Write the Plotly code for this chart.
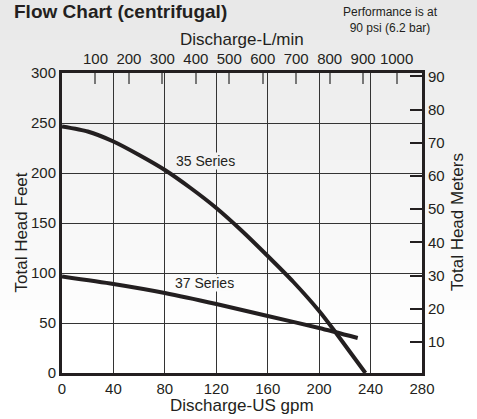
import plotly.graph_objects as go

# Pump performance curves: discharge (US gpm) vs total head (feet)
gpm_35 = [0, 20, 40, 60, 80, 100, 120, 140, 160, 180, 200, 212, 224, 236]
head_35 = [246.5, 241.5, 231.5, 218, 203, 185, 165, 142, 117, 91, 62, 42, 21, 0]

gpm_37 = [0, 40, 80, 120, 160, 200, 230]
head_37 = [96.5, 89, 80, 69, 57, 45, 35]

gpm_ticks = [0, 40, 80, 120, 160, 200, 240, 280]
feet_ticks = [0, 50, 100, 150, 200, 250, 300]
lpm_ticks = [100, 200, 300, 400, 500, 600, 700, 800, 900, 1000]
meter_ticks = [10, 20, 30, 40, 50, 60, 70, 80, 90]

W, H = 477, 419
L, R, T, B = 62, 422, 73, 373
INK = "#231f20"
FONT = "Liberation Sans, Arial, Helvetica, sans-serif"


def px(x):
    return (x - L) / (R - L)


def py(y):
    return (B - y) / (B - T)


fig = go.Figure()

fig.add_trace(go.Scatter(
    x=gpm_35, y=head_35, mode="lines",
    line=dict(color=INK, width=4, shape="spline", smoothing=0.6),
    hoverinfo="skip", showlegend=False,
))
fig.add_trace(go.Scatter(
    x=gpm_37, y=head_37, mode="lines",
    line=dict(color=INK, width=4, shape="spline", smoothing=0.6),
    hoverinfo="skip", showlegend=False,
))
# invisible traces to activate the secondary axes
fig.add_trace(go.Scatter(x=[None], y=[None], xaxis="x2", yaxis="y", showlegend=False))
fig.add_trace(go.Scatter(x=[None], y=[None], xaxis="x", yaxis="y2", showlegend=False))

# soft grey-to-white backdrop
shapes = []
n = 34
for i in range(n):
    y0 = i * 10
    y1 = y0 + 10
    g = int(round(232 + (255 - 232) * (i / (n - 1))))
    shapes.append(dict(
        type="rect", xref="paper", yref="paper",
        x0=-0.5, x1=1.5, y0=py(y1 if i < n - 1 else 500), y1=py(y0 if i else -50),
        fillcolor=f"rgb({g},{g},{g})", line=dict(width=0), layer="below",
    ))

axis_common = dict(
    showline=True, linecolor=INK, linewidth=3, zeroline=False,
    tickfont=dict(family=FONT, size=15, color=INK),
)

fig.update_layout(
    width=W, height=H,
    margin=dict(l=L, r=W - R, t=T, b=H - B),
    paper_bgcolor="white", plot_bgcolor="rgba(0,0,0,0)",
    shapes=shapes,
    xaxis=dict(
        range=[0, 280], tickvals=gpm_ticks, ticks="", ticklen=0,
        showgrid=True, gridcolor="#333333", gridwidth=1,
        mirror=False, **axis_common,
    ),
    yaxis=dict(
        range=[0, 300], tickvals=feet_ticks, ticks="", ticklen=0,
        showgrid=True, gridcolor="#333333", gridwidth=1,
        mirror=False, **axis_common,
    ),
    xaxis2=dict(
        overlaying="x", side="top", range=[0, 1076], tickvals=lpm_ticks,
        ticks="inside", ticklen=11, tickwidth=1.5, tickcolor="#777777",
        showgrid=False, **axis_common,
    ),
    yaxis2=dict(
        overlaying="y", side="right", range=[0.7, 91], tickvals=meter_ticks,
        ticks="inside", ticklen=12, tickwidth=1.5, tickcolor=INK,
        showgrid=False, **axis_common,
    ),
)

ann = []
ann.append(dict(text="<b>Flow Chart (centrifugal)</b>", xref="paper", yref="paper",
                x=px(13), y=py(0.5), xanchor="left", yanchor="top", showarrow=False,
                borderpad=0, font=dict(family=FONT, size=19, color=INK)))
ann.append(dict(text="Performance is at<br>90 psi (6.2 bar)", xref="paper", yref="paper",
                x=px(390), y=py(19.5), xanchor="center", yanchor="middle", showarrow=False,
                font=dict(family=FONT, size=12, color=INK)))
ann.append(dict(text="Discharge-L/min", xref="paper", yref="paper",
                x=px(242), y=py(39.5), xanchor="center", yanchor="middle", showarrow=False,
                font=dict(family=FONT, size=17, color=INK)))
ann.append(dict(text="Discharge-US gpm", xref="paper", yref="paper",
                x=px(242), y=py(405), xanchor="center", yanchor="middle", showarrow=False,
                font=dict(family=FONT, size=17, color=INK)))
ann.append(dict(text="Total Head Feet", xref="paper", yref="paper",
                x=px(20.5), y=py(233), xanchor="center", yanchor="middle", showarrow=False,
                textangle=-90, font=dict(family=FONT, size=17, color=INK)))
ann.append(dict(text="Total Head Meters", xref="paper", yref="paper",
                x=px(457), y=py(222), xanchor="center", yanchor="middle", showarrow=False,
                textangle=-90, font=dict(family=FONT, size=17, color=INK)))
ann.append(dict(text="35 Series", xref="x", yref="y", x=111.7, y=212,
                xanchor="center", yanchor="middle", showarrow=False,
                bgcolor="rgb(243,243,243)", borderpad=0,
                font=dict(family=FONT, size=14, color=INK)))
ann.append(dict(text="37 Series", xref="x", yref="y", x=110.8, y=89.7,
                xanchor="center", yanchor="middle", showarrow=False,
                bgcolor="rgb(251,251,251)", borderpad=0,
                font=dict(family=FONT, size=14, color=INK)))
fig.update_layout(annotations=ann)

fig.write_html("out.html")
